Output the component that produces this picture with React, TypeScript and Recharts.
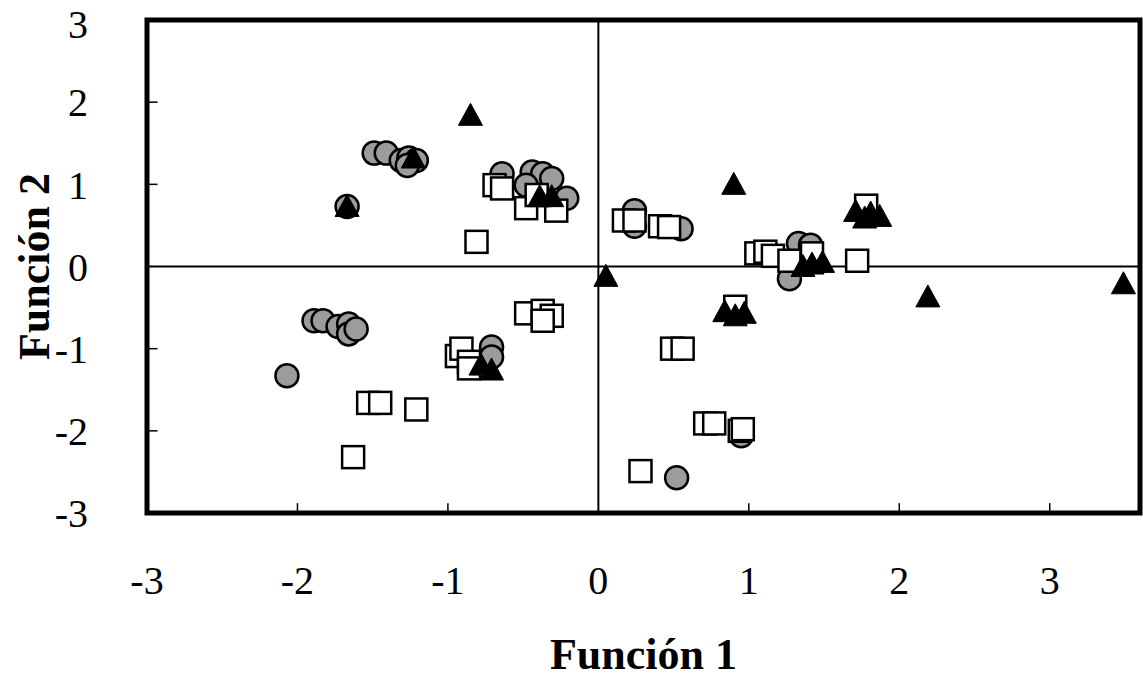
import React from 'react';
import { ScatterChart, Scatter, XAxis, YAxis, ReferenceLine, ReferenceArea, Label } from 'recharts';

// Group 1: grey circles
const grupoCirculos = [
  { x: -1.49, y: 1.38 }, { x: -1.41, y: 1.38 }, { x: -1.31, y: 1.29 }, { x: -1.26, y: 1.32 },
  { x: -1.21, y: 1.29 }, { x: -1.27, y: 1.23 }, { x: -1.67, y: 0.73 },
  { x: -0.64, y: 1.13 }, { x: -0.44, y: 1.15 }, { x: -0.37, y: 1.13 }, { x: -0.31, y: 1.07 },
  { x: -0.48, y: 0.99 }, { x: -0.21, y: 0.83 },
  { x: -1.89, y: -0.66 }, { x: -1.83, y: -0.66 }, { x: -1.73, y: -0.73 }, { x: -1.66, y: -0.7 },
  { x: -1.66, y: -0.82 }, { x: -1.61, y: -0.76 }, { x: -2.07, y: -1.33 },
  { x: -0.71, y: -0.98 }, { x: -0.71, y: -1.1 },
  { x: 0.24, y: 0.68 }, { x: 0.24, y: 0.49 }, { x: 0.55, y: 0.46 },
  { x: 1.33, y: 0.28 }, { x: 1.41, y: 0.26 }, { x: 1.27, y: -0.15 },
  { x: 0.95, y: -2.06 }, { x: 0.52, y: -2.57 },
];

// Group 2: open squares
const grupoCuadrados = [
  { x: -0.69, y: 0.99 }, { x: -0.64, y: 0.95 }, { x: -0.48, y: 0.71 }, { x: -0.28, y: 0.68 },
  { x: -0.41, y: 0.87 }, { x: -0.81, y: 0.3 },
  { x: -0.48, y: -0.57 }, { x: -0.37, y: -0.54 }, { x: -0.31, y: -0.6 }, { x: -0.37, y: -0.66 },
  { x: -0.94, y: -1.09 }, { x: -0.91, y: -1.0 }, { x: -0.86, y: -1.16 }, { x: -0.86, y: -1.24 },
  { x: -1.53, y: -1.66 }, { x: -1.45, y: -1.66 }, { x: -1.21, y: -1.74 }, { x: -1.63, y: -2.32 },
  { x: 0.17, y: 0.56 }, { x: 0.24, y: 0.56 }, { x: 0.41, y: 0.49 }, { x: 0.47, y: 0.48 },
  { x: 1.05, y: 0.16 }, { x: 1.11, y: 0.18 }, { x: 1.16, y: 0.13 }, { x: 1.27, y: 0.07 },
  { x: 1.42, y: 0.16 }, { x: 1.72, y: 0.07 }, { x: 1.78, y: 0.74 }, { x: 0.91, y: -0.49 },
  { x: 0.49, y: -1.0 }, { x: 0.56, y: -1.0 }, { x: 0.71, y: -1.91 }, { x: 0.77, y: -1.91 },
  { x: 0.94, y: -2.0 }, { x: 0.96, y: -1.98 }, { x: 0.28, y: -2.49 },
];

// Group 3: black triangles
const grupoTriangulos = [
  { x: -0.85, y: 1.84 }, { x: -1.67, y: 0.73 }, { x: -1.23, y: 1.32 },
  { x: -0.39, y: 0.85 }, { x: -0.31, y: 0.85 },
  { x: -0.78, y: -1.2 }, { x: -0.71, y: -1.26 },
  { x: 0.05, y: -0.12 }, { x: 0.9, y: 1.0 },
  { x: 0.84, y: -0.55 }, { x: 0.97, y: -0.57 }, { x: 0.91, y: -0.6 },
  { x: 1.36, y: 0.0 }, { x: 1.42, y: 0.03 }, { x: 1.49, y: 0.05 },
  { x: 1.71, y: 0.67 }, { x: 1.77, y: 0.59 }, { x: 1.81, y: 0.65 }, { x: 1.87, y: 0.61 },
  { x: 2.19, y: -0.37 }, { x: 3.49, y: -0.21 },
];

const xTicks = [-3, -2, -1, 0, 1, 2, 3];
const yTicks = [-3, -2, -1, 0, 1, 2, 3];
const xInnerTicks = [-2, -1, 1, 2, 3];
const yInnerTicks = [-2, -1, 1, 2];

const FONT = '"Liberation Serif", "Times New Roman", serif';

const CircleShape = (props: any) => (
  <circle cx={props.cx} cy={props.cy} r={11.5} fill="#9c9c9c" stroke="#000" strokeWidth={2.5} />
);
const SquareShape = (props: any) => (
  <rect x={props.cx - 11} y={props.cy - 11} width={22} height={22} fill="#fff" stroke="#000" strokeWidth={2.5} />
);
const TriangleShape = (props: any) => (
  <polygon
    points={`${props.cx - 12},${props.cy + 10} ${props.cx + 12},${props.cy + 10} ${props.cx},${props.cy - 12}`}
    fill="#000"
    stroke="#000"
    strokeWidth={1}
  />
);

export default function App() {
  return (
    <div style={{ position: 'absolute', left: 0, top: 0, background: '#fff' }}>
      <ScatterChart width={1143} height={679} margin={{ top: 20, right: 3, bottom: 0, left: 0 }}>
        <XAxis
          type="number"
          dataKey="x"
          domain={[-3, 3.6]}
          ticks={xTicks}
          allowDataOverflow
          axisLine={false}
          tickLine={false}
          tickSize={0}
          tickMargin={53}
          height={166}
          tick={{ fontSize: 40, fill: '#000', fontFamily: FONT }}
        >
          <Label
            content={(p: any) => {
              const vb = p.viewBox;
              return (
                <text
                  x={vb.x + vb.width / 2}
                  y={vb.y + 156}
                  textAnchor="middle"
                  fontFamily={FONT}
                  fontWeight="bold"
                  fontSize={44}
                  fill="#000"
                >
                  Función 1
                </text>
              );
            }}
          />
        </XAxis>
        <YAxis
          type="number"
          dataKey="y"
          domain={[-3, 3]}
          ticks={yTicks}
          allowDataOverflow
          axisLine={false}
          tickLine={false}
          tickSize={0}
          tickMargin={59}
          width={147}
          tick={{ fontSize: 40, fill: '#000', fontFamily: FONT }}
        >
          <Label
            content={(p: any) => {
              const vb = p.viewBox;
              const cx = 34;
              const cy = vb.y + vb.height / 2;
              return (
                <text
                  x={cx}
                  y={cy}
                  textAnchor="middle"
                  dominantBaseline="central"
                  transform={`rotate(-90, ${cx}, ${cy})`}
                  fontFamily={FONT}
                  fontWeight="bold"
                  fontSize={44}
                  fill="#000"
                >
                  Función 2
                </text>
              );
            }}
          />
        </YAxis>
        <ReferenceLine x={0} stroke="#000" strokeWidth={2} />
        <ReferenceLine y={0} stroke="#000" strokeWidth={2} />
        {xInnerTicks.map((t) => (
          <ReferenceLine
            key={'xt' + t}
            segment={[{ x: t, y: -3 }, { x: t, y: -2.88 }]}
            stroke="#000"
            strokeWidth={1.5}
          />
        ))}
        {yInnerTicks.map((t) => (
          <ReferenceLine
            key={'yt' + t}
            segment={[{ x: -3, y: t }, { x: -2.93, y: t }]}
            stroke="#000"
            strokeWidth={1.5}
          />
        ))}
        <Scatter data={grupoCirculos} shape={CircleShape} isAnimationActive={false} />
        <Scatter data={grupoCuadrados} shape={SquareShape} isAnimationActive={false} />
        <Scatter data={grupoTriangulos} shape={TriangleShape} isAnimationActive={false} />
        <ReferenceArea
          x1={-3}
          x2={3.6}
          y1={-3}
          y2={3}
          fill="none"
          fillOpacity={0}
          stroke="#000"
          strokeWidth={5}
          ifOverflow="visible"
        />
      </ScatterChart>
    </div>
  );
}
